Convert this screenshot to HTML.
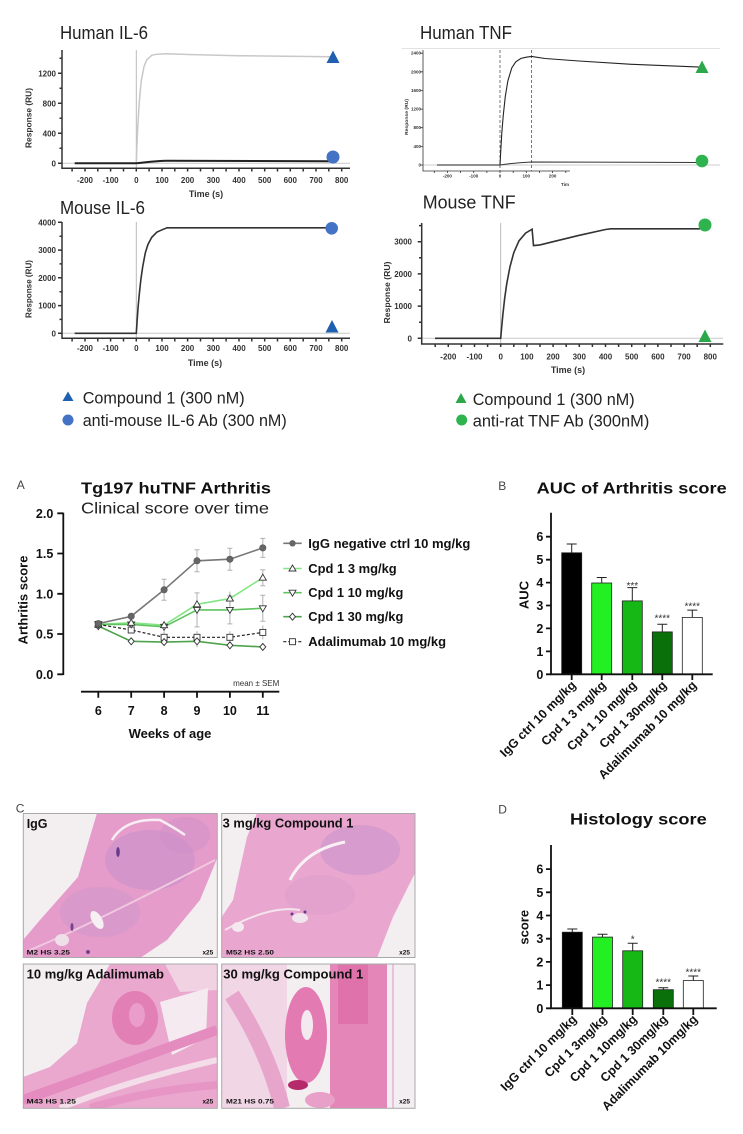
<!DOCTYPE html>
<html><head><meta charset="utf-8"><style>
html,body{margin:0;padding:0;background:#fff;}
svg{display:block;}
text{font-family:"Liberation Sans",Arial,sans-serif;}
</style></head><body>
<svg width="743" height="1134" viewBox="0 0 743 1134" xmlns="http://www.w3.org/2000/svg">
<rect width="743" height="1134" fill="#fff"/>

<!-- ============ HUMAN IL-6 ============ -->
<text x="60" y="39" font-size="18" fill="#222" textLength="88" lengthAdjust="spacingAndGlyphs">Human IL-6</text>
<line x1="62" y1="163.3" x2="350" y2="163.3" stroke="#c8c8c8" stroke-width="1"/>
<line x1="136.3" y1="50" x2="136.3" y2="168.3" stroke="#bbb" stroke-width="1"/>
<path d="M136.3,163.3 L136.8,148.7 L137.6,130.4 L138.9,107.4 L140.2,91.4 L141.4,80.1 L144,66.6 L146.6,60.1 L151.7,55.3 L156.8,54.2 L167.1,53.8 L187.6,54.5 L239,55.7 L331.4,56.8" fill="none" stroke="#c8c8c8" stroke-width="1.5"/>
<path d="M74.7,163.3 L136.3,163.3 C145,162.5 155,161 167,160.8 L331,161.2" fill="none" stroke="#222" stroke-width="2"/>
<g stroke="#333" stroke-width="1.5" fill="none">
<path d="M62,50 V168.3 H350"/>
<path d="M58,163.3H62 M58,133.3H62 M58,103.3H62 M58,73.3H62 M59.5,148.3H62 M59.5,118.3H62 M59.5,88.3H62 M59.5,58.3H62"/>
<path d="M72.1,168.3V171.5 M85,168.3V171.5 M97.8,168.3V171.5 M110.6,168.3V171.5 M123.5,168.3V171.5 M136.3,168.3V171.5 M149.1,168.3V171.5 M162,168.3V171.5 M174.8,168.3V171.5 M187.6,168.3V171.5 M200.5,168.3V171.5 M213.3,168.3V171.5 M226.1,168.3V171.5 M239,168.3V171.5 M251.8,168.3V171.5 M264.7,168.3V171.5 M277.5,168.3V171.5 M290.3,168.3V171.5 M303.2,168.3V171.5 M316,168.3V171.5 M328.8,168.3V171.5 M341.7,168.3V171.5"/>
</g>
<g font-size="8" font-weight="bold" fill="#333" text-anchor="end">
<text x="56" y="166.3">0</text><text x="56" y="136.3">400</text><text x="56" y="106.3">800</text><text x="56" y="76.3">1200</text>
</g>
<g font-size="8" font-weight="bold" fill="#333" text-anchor="middle">
<text x="85" y="183">-200</text><text x="110.6" y="183">-100</text><text x="136.3" y="183">0</text><text x="162" y="183">100</text><text x="187.6" y="183">200</text><text x="213.3" y="183">300</text><text x="239" y="183">400</text><text x="264.7" y="183">500</text><text x="290.3" y="183">600</text><text x="316" y="183">700</text><text x="341.7" y="183">800</text>
<text x="206" y="197" font-size="9">Time (s)</text>
<text transform="translate(31.5,118) rotate(-90)" font-size="8.5" textLength="60" lengthAdjust="spacingAndGlyphs">Response (RU)</text>
</g>
<polygon points="333,50.5 339.5,63 326.5,63" fill="#2060b0"/>
<circle cx="333" cy="157" r="6.5" fill="#4472c4"/>

<!-- ============ HUMAN TNF ============ -->
<text x="420" y="39" font-size="18" fill="#222" textLength="92" lengthAdjust="spacingAndGlyphs">Human TNF</text>
<line x1="401.7" y1="48.5" x2="720" y2="48.5" stroke="#e2e2e2" stroke-width="1"/>
<line x1="423" y1="165" x2="720" y2="165" stroke="#ccc" stroke-width="1"/>
<g stroke="#555" stroke-width="0.8" stroke-dasharray="3,2">
<line x1="500" y1="50" x2="500" y2="171"/><line x1="531.6" y1="50" x2="531.6" y2="171"/>
</g>
<path d="M437,165 L500,165 L500.8,149.9 L501.8,133 L503.2,116 L505.3,96.4 L507.9,80.7 L511.8,67.8 L515.8,61.8 L521,58.4 L526.3,57.2 L531.6,56.4 L545,58.5 L579,61 L631.5,64.3 L700,67.1" fill="none" stroke="#222" stroke-width="1.1"/>
<path d="M500,165 C510,163.5 520,162.5 531.6,162 L700,162.5" fill="none" stroke="#333" stroke-width="1"/>
<g stroke="#333" stroke-width="0.8" fill="none">
<path d="M423,50 V171 H570"/>
<path d="M420.5,165H423 M420.5,146.4H423 M420.5,127.7H423 M420.5,109.1H423 M420.5,90.4H423 M420.5,71.8H423 M420.5,53.2H423"/>
<path d="M434.3,171V173 M447.4,171V173 M460.6,171V173 M473.7,171V173 M486.9,171V173 M500,171V173 M513.2,171V173 M526.3,171V173 M539.5,171V173 M552.6,171V173 M565.8,171V173"/>
</g>
<g font-size="4.5" font-weight="bold" fill="#333" text-anchor="end">
<text x="421" y="166.5">0</text><text x="421" y="147.9">400</text><text x="421" y="129.2">800</text><text x="421" y="110.6">1200</text><text x="421" y="91.9">1600</text><text x="421" y="73.3">2000</text><text x="421" y="54.7">2400</text>
</g>
<g font-size="4.5" font-weight="bold" fill="#333" text-anchor="middle">
<text x="447.4" y="177.5">-200</text><text x="473.7" y="177.5">-100</text><text x="500" y="177.5">0</text><text x="526.3" y="177.5">100</text><text x="552.6" y="177.5">200</text>
<text x="565" y="186">Tim</text>
<text transform="translate(408,117) rotate(-90)" textLength="36" lengthAdjust="spacingAndGlyphs">Response (RU)</text>
</g>
<polygon points="702,60.5 708.5,73 695.5,73" fill="#2ca84a"/>
<circle cx="702" cy="161" r="6.3" fill="#2fb34f"/>

<!-- ============ MOUSE IL-6 ============ -->
<text x="60" y="214" font-size="18" fill="#222" textLength="85" lengthAdjust="spacingAndGlyphs">Mouse IL-6</text>
<line x1="62" y1="333.3" x2="350" y2="333.3" stroke="#c8c8c8" stroke-width="1"/>
<line x1="136.3" y1="222" x2="136.3" y2="338.3" stroke="#bbb" stroke-width="1"/>
<path d="M74.7,333.3 L136.3,333.3 L137.1,321.1 L138.1,307.1 L139.4,293.1 L140.9,279.2 L142.7,266.7 L145.3,252.9 L147.9,244.6 L151.7,237.4 L156.8,232.2 L162,229.8 L167.1,227.8 L331,227.8" fill="none" stroke="#333" stroke-width="1.6"/>
<g stroke="#333" stroke-width="1.5" fill="none">
<path d="M62,222 V338.3 H350"/>
<path d="M58,333.3H62 M58,305.6H62 M58,277.8H62 M58,250.1H62 M58,222.3H62 M59.5,319.4H62 M59.5,291.7H62 M59.5,263.9H62 M59.5,236.2H62"/>
<path d="M72.1,338.3V341.5 M85,338.3V341.5 M97.8,338.3V341.5 M110.6,338.3V341.5 M123.5,338.3V341.5 M136.3,338.3V341.5 M149.1,338.3V341.5 M162,338.3V341.5 M174.8,338.3V341.5 M187.6,338.3V341.5 M200.5,338.3V341.5 M213.3,338.3V341.5 M226.1,338.3V341.5 M239,338.3V341.5 M251.8,338.3V341.5 M264.7,338.3V341.5 M277.5,338.3V341.5 M290.3,338.3V341.5 M303.2,338.3V341.5 M316,338.3V341.5 M328.8,338.3V341.5 M341.7,338.3V341.5"/>
</g>
<g font-size="8" font-weight="bold" fill="#333" text-anchor="end">
<text x="56" y="336.3">0</text><text x="56" y="308.6">1000</text><text x="56" y="280.8">2000</text><text x="56" y="253.1">3000</text><text x="56" y="225.3">4000</text>
</g>
<g font-size="8" font-weight="bold" fill="#333" text-anchor="middle">
<text x="85" y="351">-200</text><text x="110.6" y="351">-100</text><text x="136.3" y="351">0</text><text x="162" y="351">100</text><text x="187.6" y="351">200</text><text x="213.3" y="351">300</text><text x="239" y="351">400</text><text x="264.7" y="351">500</text><text x="290.3" y="351">600</text><text x="316" y="351">700</text><text x="341.7" y="351">800</text>
<text x="205" y="366" font-size="9">Time (s)</text>
<text transform="translate(31.5,289) rotate(-90)" font-size="8.5" textLength="58" lengthAdjust="spacingAndGlyphs">Response (RU)</text>
</g>
<circle cx="331.7" cy="228.3" r="6.3" fill="#4472c4"/>
<polygon points="332,320 338.5,332.5 325.5,332.5" fill="#2060b0"/>

<!-- ============ MOUSE TNF ============ -->
<text x="422.7" y="208.3" font-size="18" fill="#222" textLength="93" lengthAdjust="spacingAndGlyphs">Mouse TNF</text>
<line x1="421.7" y1="338.3" x2="723" y2="338.3" stroke="#c8c8c8" stroke-width="1"/>
<line x1="500.7" y1="223" x2="500.7" y2="344" stroke="#bbb" stroke-width="1"/>
<path d="M435,338.3 L500.7,338.3 L501.5,329 L502.8,315.3 L504.6,298.9 L506.7,284 L509.9,267.1 L513.8,252.6 L519,240.8 L525.6,233.1 L532.1,229.2 L533.5,245.6 L540,244.9 L553.1,241.7 L579.3,235.3 L605.5,229.5 L610.7,228.8 L700,228.8" fill="none" stroke="#333" stroke-width="1.6"/>
<g stroke="#333" stroke-width="1.5" fill="none">
<path d="M421.7,223 V344 H723.3"/>
<path d="M417.7,338.3H421.7 M417.7,306.1H421.7 M417.7,273.9H421.7 M417.7,241.7H421.7 M419,322.2H421.7 M419,290H421.7 M419,257.8H421.7 M419,225.6H421.7"/>
<path d="M435.2,344V347 M448.3,344V347 M461.4,344V347 M474.5,344V347 M487.6,344V347 M500.7,344V347 M513.8,344V347 M526.9,344V347 M540,344V347 M553.1,344V347 M566.2,344V347 M579.3,344V347 M592.4,344V347 M605.5,344V347 M618.6,344V347 M631.7,344V347 M644.8,344V347 M657.9,344V347 M671,344V347 M684.1,344V347 M697.2,344V347 M710.3,344V347"/>
</g>
<g font-size="8" font-weight="bold" fill="#333" text-anchor="end">
<text x="412" y="341.3">0</text><text x="412" y="309.1">1000</text><text x="412" y="276.9">2000</text><text x="412" y="244.7">3000</text>
</g>
<g font-size="8" font-weight="bold" fill="#333" text-anchor="middle">
<text x="448.3" y="359.5">-200</text><text x="474.5" y="359.5">-100</text><text x="500.7" y="359.5">0</text><text x="526.9" y="359.5">100</text><text x="553.1" y="359.5">200</text><text x="579.3" y="359.5">300</text><text x="605.5" y="359.5">400</text><text x="631.7" y="359.5">500</text><text x="657.9" y="359.5">600</text><text x="684.1" y="359.5">700</text><text x="710.3" y="359.5">800</text>
<text x="568" y="373" font-size="9">Time (s)</text>
<text transform="translate(390,292.5) rotate(-90)" font-size="8.5" textLength="62" lengthAdjust="spacingAndGlyphs">Response (RU)</text>
</g>
<circle cx="705" cy="225" r="6.5" fill="#2fb34f"/>
<polygon points="705,329.5 711.5,342 698.5,342" fill="#2ca84a"/>

<!-- ============ LEGENDS ============ -->
<polygon points="68,391.5 73.5,401 62.5,401" fill="#2060b0"/>
<text x="82.7" y="403.3" font-size="17" fill="#222" textLength="162" lengthAdjust="spacingAndGlyphs">Compound 1 (300 nM)</text>
<circle cx="68" cy="420" r="5.5" fill="#4472c4"/>
<text x="82.7" y="426" font-size="17" fill="#222" textLength="204" lengthAdjust="spacingAndGlyphs">anti-mouse IL-6 Ab (300 nM)</text>
<polygon points="461,393 466.5,403 455.5,403" fill="#2ca84a"/>
<text x="472.7" y="405" font-size="17" fill="#222" textLength="162" lengthAdjust="spacingAndGlyphs">Compound 1 (300 nM)</text>
<circle cx="461.7" cy="420" r="5.5" fill="#2fb34f"/>
<text x="472.7" y="426.7" font-size="17" fill="#222" textLength="176.6" lengthAdjust="spacingAndGlyphs">anti-rat TNF Ab (300nM)</text>

<!-- ============ PANEL A ============ -->
<text x="16.7" y="489" font-size="12" fill="#444">A</text>
<text x="81" y="493.3" font-size="16" font-weight="bold" fill="#111" textLength="190" lengthAdjust="spacingAndGlyphs">Tg197 huTNF Arthritis</text>
<text x="81" y="513.3" font-size="16" fill="#222" textLength="188" lengthAdjust="spacingAndGlyphs">Clinical score over time</text>
<g stroke="#111" stroke-width="1.8" fill="none">
<path d="M63.3,512.7 V675"/>
<path d="M57.3,513.3H63.3 M57.3,553.5H63.3 M57.3,593.8H63.3 M57.3,634H63.3 M57.3,674.3H63.3"/>
<path d="M81,691.7 H279.3"/>
<path d="M98.3,691.7V697.7 M131.2,691.7V697.7 M164.1,691.7V697.7 M197,691.7V697.7 M229.9,691.7V697.7 M262.8,691.7V697.7"/>
</g>
<g font-size="12.5" font-weight="bold" fill="#111" text-anchor="end">
<text x="53.3" y="517.8">2.0</text><text x="53.3" y="558">1.5</text><text x="53.3" y="598.3">1.0</text><text x="53.3" y="638.5">0.5</text><text x="53.3" y="678.8">0.0</text>
</g>
<g font-size="12.5" font-weight="bold" fill="#111" text-anchor="middle">
<text x="98.3" y="715">6</text><text x="131.2" y="715">7</text><text x="164.1" y="715">8</text><text x="197" y="715">9</text><text x="229.9" y="715">10</text><text x="262.8" y="715">11</text>
<text x="170" y="738" font-size="13">Weeks of age</text>
<text transform="translate(27.3,600) rotate(-90)" font-size="13">Arthritis score</text>
</g>
<text x="279.3" y="686" font-size="8" fill="#333" text-anchor="end">mean ± SEM</text>

<!-- error bars -->
<g stroke="#b0b0b0" stroke-width="1" fill="none">
<path d="M164.1,579.3V600.3 M161.6,579.3H166.6 M161.6,600.3H166.6"/>
<path d="M197,549.8V571.8 M194.5,549.8H199.5 M194.5,571.8H199.5"/>
<path d="M229.9,548.2V570.2 M227.4,548.2H232.4 M227.4,570.2H232.4"/>
<path d="M262.8,538.4V557.4 M260.3,538.4H265.3 M260.3,557.4H265.3"/>
<path d="M131.2,613.3V619.3"/>
<path d="M197,597.3V611.3 M229.9,591.6V605.6 M262.8,569.7V585.7 M260.3,569.7H265.3 M260.3,585.7H265.3"/>
<path d="M197,592.9V626.9 M194.5,592.9H199.5 M194.5,626.9H199.5"/>
<path d="M229.9,595.9V623.9 M227.4,595.9H232.4 M227.4,623.9H232.4"/>
<path d="M262.8,595.3V621.3 M260.3,595.3H265.3 M260.3,621.3H265.3"/>
<path d="M197,635.3V647.3 M229.9,641.3V649.3 M131.2,638.3V644.3"/>
<path d="M164.1,631.3V643.3 M197,631.3V643.3 M229.9,631.3V643.3 M262.8,625.4V639.4"/>
</g>
<!-- lines -->
<polyline points="98.3,623.6 131.2,616.3 164.1,589.8 197,560.8 229.9,559.2 262.8,547.9" fill="none" stroke="#777" stroke-width="1.6"/>
<polyline points="98.3,624.4 131.2,622.8 164.1,625.2 197,604.3 229.9,598.6 262.8,577.7" fill="none" stroke="#86e486" stroke-width="1.6"/>
<polyline points="98.3,624.4 131.2,624.4 164.1,626.8 197,609.9 229.9,609.9 262.8,608.3" fill="none" stroke="#5fc45f" stroke-width="1.6"/>
<polyline points="98.3,626 131.2,641.3 164.1,642.1 197,641.3 229.9,645.3 262.8,646.9" fill="none" stroke="#4fa34f" stroke-width="1.6"/>
<polyline points="98.3,624.4 131.2,630 164.1,637.3 197,637.3 229.9,637.3 262.8,632.4" fill="none" stroke="#222" stroke-width="1.2" stroke-dasharray="3,2"/>
<!-- markers -->
<g fill="#fff" stroke="#333" stroke-width="0.9">
<rect x="95.3" y="621.4" width="6" height="6"/><rect x="128.2" y="627" width="6" height="6"/><rect x="161.1" y="634.3" width="6" height="6"/><rect x="194" y="634.3" width="6" height="6"/><rect x="226.9" y="634.3" width="6" height="6"/><rect x="259.8" y="629.4" width="6" height="6"/>
<path d="M98.3,622.5L101.3,626L98.3,629.5L95.3,626Z M131.2,637.8L134.2,641.3L131.2,644.8L128.2,641.3Z M164.1,638.6L167.1,642.1L164.1,645.6L161.1,642.1Z M197,637.8L200,641.3L197,644.8L194,641.3Z M229.9,641.8L232.9,645.3L229.9,648.8L226.9,645.3Z M262.8,643.4L265.8,646.9L262.8,650.4L259.8,646.9Z"/>
<path d="M98.3,627.9L101.8,621.9L94.8,621.9Z M131.2,627.9L134.7,621.9L127.7,621.9Z M164.1,630.3L167.6,624.3L160.6,624.3Z M197,613.4L200.5,607.4L193.5,607.4Z M229.9,613.4L233.4,607.4L226.4,607.4Z M262.8,611.8L266.3,605.8L259.3,605.8Z"/>
<path d="M98.3,620.9L101.8,626.9L94.8,626.9Z M131.2,619.3L134.7,625.3L127.7,625.3Z M164.1,621.7L167.6,627.7L160.6,627.7Z M197,600.8L200.5,606.8L193.5,606.8Z M229.9,595.1L233.4,601.1L226.4,601.1Z M262.8,574.2L266.3,580.2L259.3,580.2Z"/>
</g>
<g fill="#666" stroke="#555" stroke-width="0.6">
<circle cx="98.3" cy="623.6" r="3.2"/><circle cx="131.2" cy="616.3" r="3.2"/><circle cx="164.1" cy="589.8" r="3.2"/><circle cx="197" cy="560.8" r="3.2"/><circle cx="229.9" cy="559.2" r="3.2"/><circle cx="262.8" cy="547.9" r="3.2"/>
</g>
<!-- legend -->
<line x1="283.3" y1="543.3" x2="301.7" y2="543.3" stroke="#777" stroke-width="1.6"/>
<circle cx="292.5" cy="543.3" r="3.2" fill="#666"/>
<line x1="283.3" y1="568.5" x2="301.7" y2="568.5" stroke="#86e486" stroke-width="1.6"/>
<path d="M292.5,565L296,571L289,571Z" fill="#fff" stroke="#333" stroke-width="0.9"/>
<line x1="283.3" y1="592.7" x2="301.7" y2="592.7" stroke="#5fc45f" stroke-width="1.6"/>
<path d="M292.5,596.2L296,590.2L289,590.2Z" fill="#fff" stroke="#333" stroke-width="0.9"/>
<line x1="283.3" y1="616.7" x2="301.7" y2="616.7" stroke="#4fa34f" stroke-width="1.6"/>
<path d="M292.5,613.2L295.5,616.7L292.5,620.2L289.5,616.7Z" fill="#fff" stroke="#333" stroke-width="0.9"/>
<line x1="283.3" y1="641.7" x2="301.7" y2="641.7" stroke="#222" stroke-width="1.2" stroke-dasharray="3,2"/>
<rect x="289.5" y="638.7" width="6" height="6" fill="#fff" stroke="#333" stroke-width="0.9"/>
<g font-size="13" font-weight="bold" fill="#111">
<text x="308.3" y="548" textLength="162" lengthAdjust="spacingAndGlyphs">IgG negative ctrl 10 mg/kg</text>
<text x="308.3" y="573" textLength="88.4" lengthAdjust="spacingAndGlyphs">Cpd 1 3 mg/kg</text>
<text x="308.3" y="597.2" textLength="95" lengthAdjust="spacingAndGlyphs">Cpd 1 10 mg/kg</text>
<text x="308.3" y="621.2" textLength="95" lengthAdjust="spacingAndGlyphs">Cpd 1 30 mg/kg</text>
<text x="308.3" y="646.2" textLength="137.7" lengthAdjust="spacingAndGlyphs">Adalimumab 10 mg/kg</text>
</g>

<!-- ============ PANEL B ============ -->
<text x="498.3" y="490" font-size="12" fill="#444">B</text>
<text x="536.7" y="493.3" font-size="16" font-weight="bold" fill="#111" textLength="190" lengthAdjust="spacingAndGlyphs">AUC of Arthritis score</text>
<g stroke="#222" stroke-width="0.8">
<rect x="561.7" y="552.8" width="20" height="121.5" fill="#000"/>
<rect x="591.7" y="583" width="20" height="91.3" fill="#22f022"/>
<rect x="622.3" y="600.9" width="20" height="73.4" fill="#16b816"/>
<rect x="652.3" y="631.9" width="20" height="42.4" fill="#0a700a"/>
<rect x="682.3" y="617.4" width="20" height="56.9" fill="#fff"/>
</g>
<g stroke="#222" stroke-width="1" fill="none">
<path d="M571.7,552.8V544 M566.7,544H576.7"/>
<path d="M601.7,583V577.5 M596.7,577.5H606.7"/>
<path d="M632.3,600.9V587.6 M627.3,587.6H637.3"/>
<path d="M662.3,631.9V624.3 M657.3,624.3H667.3"/>
<path d="M692.3,617.4V610.1 M687.3,610.1H697.3"/>
</g>
<g font-size="10" fill="#333" text-anchor="middle">
<text x="632.3" y="589">***</text><text x="662.3" y="621.3">****</text><text x="692.3" y="609.6">****</text>
</g>
<g stroke="#111" stroke-width="1.8" fill="none">
<path d="M551,512.7 V674.3 H712.7"/>
<path d="M546,674.3H551 M546,651.4H551 M546,628.4H551 M546,605.5H551 M546,582.6H551 M546,559.7H551 M546,536.7H551"/>
<path d="M571.7,674.3V680 M601.7,674.3V680 M632.3,674.3V680 M662.3,674.3V680 M692.3,674.3V680"/>
</g>
<g font-size="12.5" font-weight="bold" fill="#111" text-anchor="end">
<text x="543.3" y="678.8">0</text><text x="543.3" y="655.9">1</text><text x="543.3" y="632.9">2</text><text x="543.3" y="610">3</text><text x="543.3" y="587.1">4</text><text x="543.3" y="564.2">5</text><text x="543.3" y="541.2">6</text>
</g>
<text transform="translate(528.5,595) rotate(-90)" font-size="13" font-weight="bold" fill="#111" text-anchor="middle">AUC</text>
<g font-size="12.5" font-weight="bold" fill="#111" text-anchor="end">
<text transform="translate(576.7,686) rotate(-45)">IgG ctrl 10 mg/kg</text>
<text transform="translate(606.7,686) rotate(-45)">Cpd 1 3 mg/kg</text>
<text transform="translate(637.3,686) rotate(-45)">Cpd 1 10 mg/kg</text>
<text transform="translate(667.3,686) rotate(-45)">Cpd 1 30mg/kg</text>
<text transform="translate(697.3,686) rotate(-45)">Adalimumab 10 mg/kg</text>
</g>

<!-- ============ PANEL C ============ -->
<text x="15.7" y="812.7" font-size="12" fill="#444">C</text>
<defs>
<clipPath id="c1"><rect x="23.3" y="813.5" width="194" height="144"/></clipPath>
<clipPath id="c2"><rect x="221.7" y="813.5" width="193.3" height="144"/></clipPath>
<clipPath id="c3"><rect x="23.3" y="964" width="194" height="144.3"/></clipPath>
<clipPath id="c4"><rect x="221.7" y="964" width="193.3" height="144.3"/></clipPath>
</defs>
<!-- TL IgG -->
<g clip-path="url(#c1)">
<rect x="23.3" y="813.5" width="194" height="144" fill="#f3eef0"/>
<polygon points="97,813 217.3,813 217.3,858 200,900 167,940 140,958 23,958 23,940 40,920 78,877" fill="#e59ccb"/>
<ellipse cx="150" cy="860" rx="45" ry="30" fill="#c48fcb" opacity="0.55"/>
<ellipse cx="100" cy="912" rx="40" ry="25" fill="#cf95cc" opacity="0.5"/>
<ellipse cx="185" cy="835" rx="25" ry="18" fill="#d08ec8" opacity="0.5"/>
<path d="M112,840 Q125,818 160,820 Q175,828 185,835" fill="none" stroke="#f6eef3" stroke-width="2.5"/>
<path d="M30,950 Q90,925 215,860" fill="none" stroke="#f0c8e0" stroke-width="2"/>
<ellipse cx="97" cy="920" rx="5" ry="10" transform="rotate(-30 97 920)" fill="#f6f0f3"/>
<ellipse cx="62" cy="940" rx="7" ry="6" fill="#efdfe8"/>
<ellipse cx="118" cy="852" rx="1.8" ry="5" fill="#6a3a8a"/>
<ellipse cx="72" cy="927" rx="1.5" ry="4" fill="#7a4090"/>
<ellipse cx="88" cy="952" rx="2" ry="2" fill="#7a4090"/>
</g>
<rect x="23.3" y="813.5" width="194" height="144" fill="none" stroke="#a8a8a8" stroke-width="1"/>
<!-- TR 3mg -->
<g clip-path="url(#c2)">
<rect x="221.7" y="813.5" width="193.3" height="144" fill="#f3eef0"/>
<polygon points="257,813 415,813 415,873 393,917 377,958 221.7,958 221.7,917 233,900 247,837" fill="#e9a7cf"/>
<ellipse cx="360" cy="850" rx="40" ry="25" fill="#c890cc" opacity="0.5"/>
<ellipse cx="320" cy="895" rx="35" ry="20" fill="#d99ccb" opacity="0.4"/>
<path d="M290,880 Q305,850 345,842" fill="none" stroke="#f7f0f4" stroke-width="3"/>
<path d="M225,930 Q270,905 300,910" fill="none" stroke="#f4e4ee" stroke-width="2"/>
<ellipse cx="300" cy="918" rx="8" ry="5" fill="#f2e6ee"/>
<ellipse cx="238" cy="927" rx="6" ry="5" fill="#f3e9ef"/>
<ellipse cx="292" cy="914" rx="1.5" ry="1.5" fill="#6a3a8a"/>
<ellipse cx="305" cy="912" rx="1.5" ry="1.5" fill="#6a3a8a"/>
</g>
<rect x="221.7" y="813.5" width="193.3" height="144" fill="none" stroke="#a8a8a8" stroke-width="1"/>
<!-- BL Adalimumab -->
<g clip-path="url(#c3)">
<rect x="23.3" y="964" width="194" height="144.3" fill="#f3eef0"/>
<polygon points="110,964 217.3,964 217.3,1108.3 23,1108.3 23,1077 50,1067 77,1043 87,1003" fill="#eba8cf"/>
<polygon points="165,964 217.3,964 217.3,990 180,992" fill="#f0d2e3"/>
<ellipse cx="135" cy="1018" rx="23" ry="27" fill="#e27fb5"/>
<ellipse cx="137" cy="1015" rx="8" ry="12" fill="#ea9ccb"/>
<polygon points="160,1002 208,988 206,1038 172,1055" fill="#f4eaf0"/>
<path d="M23,1100 Q120,1065 217,1030" fill="none" stroke="#e48cbf" stroke-width="10"/>
<path d="M60,1108 Q130,1080 217,1060" fill="none" stroke="#f2dde9" stroke-width="6"/>
<path d="M90,1108 Q150,1090 217,1085" fill="none" stroke="#e695c4" stroke-width="8"/>
</g>
<rect x="23.3" y="964" width="194" height="144.3" fill="none" stroke="#a8a8a8" stroke-width="1"/>
<!-- BR 30mg -->
<g clip-path="url(#c4)">
<rect x="221.7" y="964" width="193.3" height="144.3" fill="#f3eef0"/>
<polygon points="221.7,964 287,964 287,1108.3 221.7,1108.3" fill="#f1d6e6"/>
<path d="M232,995 Q268,1050 282,1108" fill="none" stroke="#e8a5cc" stroke-width="16"/>
<rect x="330" y="964" width="57" height="144.3" fill="#e586b8"/>
<rect x="338" y="964" width="30" height="60" fill="#de6aa5" opacity="0.7"/>
<ellipse cx="306" cy="1035" rx="21" ry="48" fill="#e47ab2"/>
<ellipse cx="307" cy="1025" rx="6" ry="15" fill="#f4e9ef"/>
<rect x="387" y="964" width="28" height="144.3" fill="#f3eef1"/>
<line x1="393" y1="964" x2="393" y2="1108" stroke="#e9b0d0" stroke-width="1.5"/>
<ellipse cx="298" cy="1085" rx="10" ry="5" fill="#b52a6a"/>
<ellipse cx="320" cy="1100" rx="15" ry="8" fill="#e8a0c8"/>
</g>
<rect x="221.7" y="964" width="193.3" height="144.3" fill="none" stroke="#a8a8a8" stroke-width="1"/>
<!-- labels -->
<g font-weight="bold" fill="#111">
<text x="26.7" y="828" font-size="12.5">IgG</text>
<text x="222.7" y="827.3" font-size="12.5" textLength="130.7" lengthAdjust="spacingAndGlyphs">3 mg/kg Compound 1</text>
<text x="26.7" y="978.3" font-size="12.5" textLength="137.3" lengthAdjust="spacingAndGlyphs">10 mg/kg Adalimumab</text>
<text x="223.3" y="978.3" font-size="12.5" textLength="140" lengthAdjust="spacingAndGlyphs">30 mg/kg Compound 1</text>
<g font-size="6.5">
<text x="26.7" y="954.3" textLength="43.3" lengthAdjust="spacingAndGlyphs">M2 HS 3.25</text>
<text x="213.3" y="954.3" text-anchor="end">x25</text>
<text x="226" y="954.3" textLength="48" lengthAdjust="spacingAndGlyphs">M52 HS 2.50</text>
<text x="410" y="954.3" text-anchor="end">x25</text>
<text x="26.7" y="1103.3" textLength="49.3" lengthAdjust="spacingAndGlyphs">M43 HS 1.25</text>
<text x="213.3" y="1103.3" text-anchor="end">x25</text>
<text x="226" y="1103.3" textLength="48" lengthAdjust="spacingAndGlyphs">M21 HS 0.75</text>
<text x="410" y="1103.3" text-anchor="end">x25</text>
</g>
</g>

<!-- ============ PANEL D ============ -->
<text x="498.3" y="813.5" font-size="12" fill="#444">D</text>
<text x="570" y="824.3" font-size="16" font-weight="bold" fill="#111" textLength="136.7" lengthAdjust="spacingAndGlyphs">Histology score</text>
<g stroke="#222" stroke-width="0.8">
<rect x="562.3" y="932.2" width="20" height="76.1" fill="#000"/>
<rect x="592.5" y="937.1" width="20" height="71.2" fill="#22f022"/>
<rect x="622.7" y="950.8" width="20" height="57.5" fill="#16b816"/>
<rect x="653.3" y="989.7" width="20" height="18.6" fill="#0a700a"/>
<rect x="683.3" y="980.5" width="20" height="27.8" fill="#fff"/>
</g>
<g stroke="#222" stroke-width="1" fill="none">
<path d="M572.3,932.2V929 M567.3,929H577.3"/>
<path d="M602.5,937.1V934.2 M597.5,934.2H607.5"/>
<path d="M632.7,950.8V943.3 M627.7,943.3H637.7"/>
<path d="M663.3,989.7V987.8 M658.3,987.8H668.3"/>
<path d="M693.3,980.5V976 M688.3,976H698.3"/>
</g>
<g font-size="10" fill="#333" text-anchor="middle">
<text x="632.7" y="942.3">*</text><text x="663.3" y="985.6">****</text><text x="693.3" y="975.6">****</text>
</g>
<g stroke="#111" stroke-width="1.8" fill="none">
<path d="M551,845 V1008.3 H716.7"/>
<path d="M546,1008.3H551 M546,985.1H551 M546,961.9H551 M546,938.7H551 M546,915.5H551 M546,892.3H551 M546,869.1H551"/>
<path d="M572.3,1008.3V1015 M602.5,1008.3V1015 M632.7,1008.3V1015 M663.3,1008.3V1015 M693.3,1008.3V1015"/>
</g>
<g font-size="12.5" font-weight="bold" fill="#111" text-anchor="end">
<text x="543.3" y="1012.8">0</text><text x="543.3" y="989.6">1</text><text x="543.3" y="966.4">2</text><text x="543.3" y="943.2">3</text><text x="543.3" y="920">4</text><text x="543.3" y="896.8">5</text><text x="543.3" y="873.6">6</text>
</g>
<text transform="translate(528.5,927.3) rotate(-90)" font-size="13" font-weight="bold" fill="#111" text-anchor="middle">score</text>
<g font-size="12.5" font-weight="bold" fill="#111" text-anchor="end">
<text transform="translate(577.3,1020) rotate(-45)">IgG ctrl 10 mg/kg</text>
<text transform="translate(607.5,1020) rotate(-45)">Cpd 1 3mg/kg</text>
<text transform="translate(637.7,1020) rotate(-45)">Cpd 1 10mg/kg</text>
<text transform="translate(668.3,1020) rotate(-45)">Cpd 1 30mg/kg</text>
<text transform="translate(698.3,1020) rotate(-45)">Adalimumab 10mg/kg</text>
</g>
</svg>
</body></html>
